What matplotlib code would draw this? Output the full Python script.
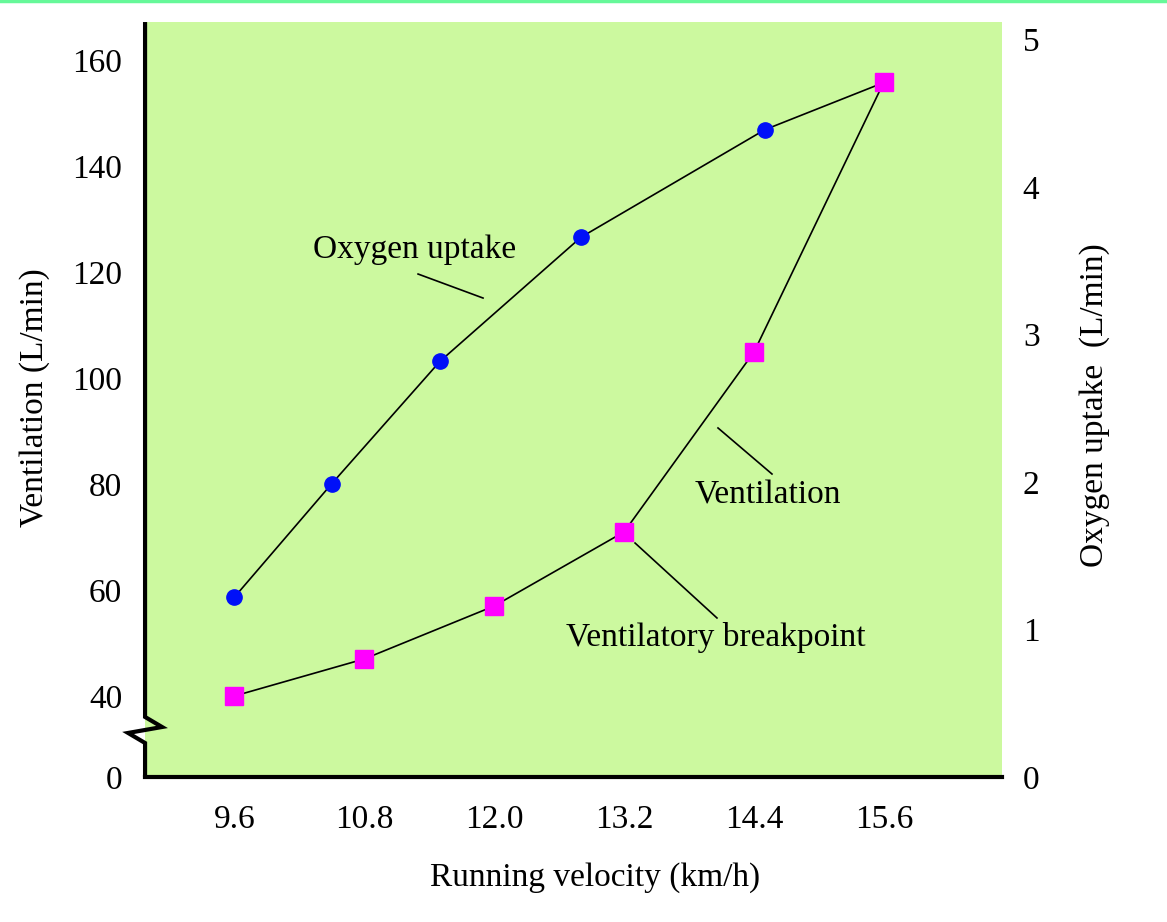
import matplotlib.pyplot as plt
from matplotlib.lines import Line2D

plt.rcParams["font.family"] = ["Liberation Serif", "DejaVu Serif"]

# data
velocity = [9.6, 10.8, 12.0, 13.2, 14.4, 15.6]
ventilation = [40, 47, 57, 71, 105, 156]          # L/min, left axis

o2_velocity = [9.6, 10.5, 11.5, 12.8, 14.5, 15.6]
oxygen_uptake = [1.22, 1.99, 2.82, 3.66, 4.39, 4.71]  # L/min, right axis

x_ticks = [9.6, 10.8, 12.0, 13.2, 14.4, 15.6]
x_ticklabels = ["9.6", "10.8", "12.0", "13.2", "14.4", "15.6"]
left_ticks = [40, 60, 80, 100, 120, 140, 160]
right_ticks = [0, 1, 2, 3, 4, 5]

green = "#ccf99f"
fs = 24

fig = plt.figure(figsize=(11.67, 9.22), dpi=100)
ax = fig.add_axes([0.1243, 0.1573, 0.7343, 0.8188])
ax2 = ax.twinx()

# left axis on top so the squares cover the oxygen line end
ax.set_zorder(ax2.get_zorder() + 1)
ax.patch.set_visible(False)
ax2.patch.set_visible(True)
ax2.set_facecolor(green)

ax2.plot(o2_velocity, oxygen_uptake, color="black", lw=1.2,
         marker="o", markersize=11, markerfacecolor="#0010f8",
         markeredgecolor="#0010f8", markevery=[0, 1, 2, 3, 4])
ax.plot(velocity, ventilation, color="black", lw=1.2,
        marker="s", markersize=13, markerfacecolor="#ff00ff",
        markeredgecolor="#ff00ff")

ax.set_xlim(8.774, 16.69)
ybot = 24.7
ax.set_ylim(ybot, 167.3)
ax2.set_ylim(0, 5.12)

ax.set_xticks(x_ticks)
ax.set_xticklabels(x_ticklabels)
ax.set_yticks([ybot] + left_ticks)
ax.set_yticklabels(["0"] + [str(t) for t in left_ticks])
ax2.set_yticks(right_ticks)
ax2.set_yticklabels([str(t) for t in right_ticks])

ax.tick_params(axis="x", length=0, pad=20, labelsize=fs)
ax.tick_params(axis="y", length=0, pad=16.5, labelsize=fs)
ax2.tick_params(axis="y", length=0, pad=15, labelsize=fs)

for s in ["top", "right", "left"]:
    ax.spines[s].set_visible(False)
for s in ax2.spines.values():
    s.set_visible(False)
ax.spines["bottom"].set_linewidth(3)
ax.spines["bottom"].set_capstyle("projecting")

# left spine with break mark (axes fraction)
bx = [0, 0, 0.0198, -0.0198, 0, 0]
by = [1, 0.0795, 0.0662, 0.0583, 0.0450, 0]
ax.add_line(Line2D(bx, by, transform=ax.transAxes, color="black", lw=3,
                   clip_on=False, solid_joinstyle="miter",
                   solid_capstyle="butt"))

# labels
fig.text(35 / 1167, 1 - 398 / 922, "Ventilation (L/min)", rotation=90,
         ha="center", va="center", fontsize=fs)
fig.text(1095 / 1167, 1 - 405 / 922, "Oxygen uptake  (L/min)", rotation=90,
         ha="center", va="center", fontsize=fs)
fig.text(595 / 1167, 1 - 878 / 922, "Running velocity (km/h)",
         ha="center", va="center", fontsize=fs)

# annotations with leader lines
notes = [
    ("Oxygen uptake", (0.315, 0.698), (0.3186, 0.6662), (0.3944, 0.6344)),
    ("Ventilation", (0.727, 0.3735), (0.6686, 0.4623), (0.7316, 0.4013)),
    ("Ventilatory breakpoint", (0.6663, 0.1841), (0.5718, 0.3099), (0.6674, 0.2106)),
]
for txt, pos, p1, p2 in notes:
    ax.text(pos[0], pos[1], txt, transform=ax.transAxes, ha="center",
            va="center", fontsize=fs)
    ax.add_line(Line2D([p1[0], p2[0]], [p1[1], p2[1]], transform=ax.transAxes,
                       color="black", lw=1.2))

# thin green strip along the top edge
fig.add_artist(Line2D([0, 1], [0.999, 0.999], transform=fig.transFigure,
                      color="#66f899", lw=2.5))

fig.savefig("out.png", dpi=100)
